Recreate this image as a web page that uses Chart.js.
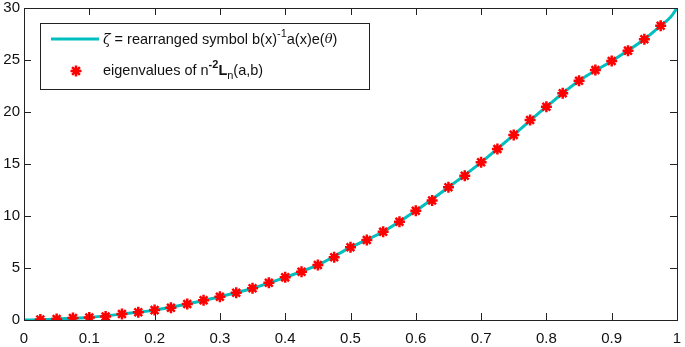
<!DOCTYPE html>
<html>
<head>
<meta charset="utf-8">
<script src="https://cdn.jsdelivr.net/npm/chart.js@4.4.1/dist/chart.umd.min.js"></script>
<style>
  html, body { margin: 0; padding: 0; background: #fff; }
  #wrap { width: 685px; height: 347px; }
</style>
</head>
<body>
<div id="wrap"><canvas id="eigChart" width="685" height="347"></canvas></div>
<script>
// eigenvalue markers
const eigX = [0.025, 0.05, 0.075, 0.1, 0.125, 0.15, 0.175, 0.2, 0.225, 0.25,
  0.275, 0.3, 0.325, 0.35, 0.375, 0.4, 0.425, 0.45, 0.475, 0.5,
  0.525, 0.55, 0.575, 0.6, 0.625, 0.65, 0.675, 0.7, 0.725, 0.75,
  0.775, 0.8, 0.825, 0.85, 0.875, 0.9, 0.925, 0.95, 0.975]
const eigY = [0.05, 0.1, 0.2, 0.25, 0.33, 0.57, 0.75, 0.95, 1.18, 1.54,
  1.89, 2.24, 2.63, 3.05, 3.59, 4.1, 4.64, 5.29, 6.03, 6.99,
  7.69, 8.49, 9.45, 10.5, 11.5, 12.76, 13.88, 15.16, 16.44, 17.8,
  19.23, 20.51, 21.8, 23.0, 24.04, 24.9, 25.9, 26.99, 28.3]

// symbol curve
const curveX = [0, 0.025, 0.05, 0.1, 0.15, 0.2, 0.25, 0.3, 0.35, 0.4, 0.45, 0.5,
  0.55, 0.6, 0.65, 0.7, 0.75, 0.8, 0.85, 0.9, 0.95, 0.975, 0.99, 1]
const curveY = [0, 0.03, 0.1, 0.25, 0.57, 0.95, 1.54, 2.24, 3.05, 4.1, 5.29, 6.99,
  8.49, 10.5, 12.76, 15.16, 17.8, 20.51, 23.0, 24.9, 26.99, 28.3, 29.1, 30]

const xTicks = [0, 0.1, 0.2, 0.3, 0.4, 0.5, 0.6, 0.7, 0.8, 0.9, 1]
const xTickLabels = ['0', '0.1', '0.2', '0.3', '0.4', '0.5', '0.6', '0.7', '0.8', '0.9', '1']
const yTicks = [0, 5, 10, 15, 20, 25, 30]
const yTickLabels = ['0', '5', '10', '15', '20', '25', '30']

const FONT = "'Liberation Sans', Arial, Helvetica, sans-serif"
const AXIS = '#222'
const CYAN = '#00bfbf'
const RED = '#ff0000'

// legend rows as rich-text pieces
const legendRow1 = [
  { t: 'ζ', font: 'italic 14px "DejaVu Serif", serif', dy: 0 },
  { t: ' = rearranged symbol b(x)', font: '14.5px ' + FONT, dy: 0 },
  { t: '-1', font: '11px ' + FONT, dy: -6 },
  { t: 'a(x)e(', font: '14.5px ' + FONT, dy: 0 },
  { t: 'θ', font: 'italic 13px "DejaVu Serif", serif', dy: 0 },
  { t: ')', font: '14.5px ' + FONT, dy: 0 }
]
const legendRow2 = [
  { t: 'eigenvalues of n', font: '14.5px ' + FONT, dy: 0 },
  { t: '-2', font: 'bold 11px ' + FONT, dy: -6 },
  { t: 'L', font: 'bold 14.5px ' + FONT, dy: 0 },
  { t: 'n', font: '11px ' + FONT, dy: 5 },
  { t: '(a,b)', font: '14.5px ' + FONT, dy: 0 }
]

function drawRich(ctx, pieces, x, y) {
  ctx.textBaseline = 'middle'
  ctx.textAlign = 'left'
  ctx.fillStyle = '#111'
  pieces.forEach(p => {
    ctx.font = p.font
    ctx.fillText(p.t, x, y + p.dy)
    x += ctx.measureText(p.t).width
  })
}

const boxPlugin = {
  id: 'boxPlugin',
  afterDraw(chart) {
    const ctx = chart.ctx
    const a = chart.chartArea
    const xs = chart.scales.x
    const ys = chart.scales.y
    const tl = 7
    ctx.save()
    ctx.strokeStyle = AXIS
    ctx.lineWidth = 1
    ctx.beginPath()
    xTicks.forEach(v => {
      const px = Math.round(xs.getPixelForValue(v)) + 0.5
      ctx.moveTo(px, a.bottom); ctx.lineTo(px, a.bottom - tl)
      ctx.moveTo(px, a.top); ctx.lineTo(px, a.top + tl)
    })
    yTicks.forEach(v => {
      const py = Math.round(ys.getPixelForValue(v)) + 0.5
      ctx.moveTo(a.left, py); ctx.lineTo(a.left + tl, py)
      ctx.moveTo(a.right, py); ctx.lineTo(a.right - tl, py)
    })
    ctx.stroke()
    ctx.strokeRect(Math.round(a.left) + 0.5, Math.round(a.top) + 0.5,
      Math.round(a.right - a.left), Math.round(a.bottom - a.top))

    // legend box
    ctx.fillStyle = '#fff'
    ctx.fillRect(40.5, 23.5, 329, 66)
    ctx.strokeStyle = '#222'
    ctx.strokeRect(40.5, 23.5, 329, 66)
    ctx.strokeStyle = CYAN
    ctx.lineWidth = 3
    ctx.beginPath()
    ctx.moveTo(51, 39); ctx.lineTo(99, 39)
    ctx.stroke()
    ctx.strokeStyle = RED
    ctx.lineWidth = 2.5
    ctx.beginPath()
    for (let k = 0; k < 4; k++) {
      const ang = k * Math.PI / 4
      ctx.moveTo(76 - 5.5 * Math.cos(ang), 71 - 5.5 * Math.sin(ang))
      ctx.lineTo(76 + 5.5 * Math.cos(ang), 71 + 5.5 * Math.sin(ang))
    }
    ctx.stroke()
    drawRich(ctx, legendRow1, 103, 40)
    drawRich(ctx, legendRow2, 103, 71)
    ctx.restore()
  }
}

const ctx = document.getElementById('eigChart').getContext('2d')

new Chart(ctx, {
  type: 'line',
  data: {
    datasets: [
      {
        label: 'symbol',
        data: curveX.map((x, i) => ({ x: x, y: curveY[i] })),
        borderColor: CYAN,
        borderWidth: 3,
        pointRadius: 0,
        cubicInterpolationMode: 'monotone',
        order: 2
      },
      {
        label: 'eigenvalues',
        data: eigX.map((x, i) => ({ x: x, y: eigY[i] })),
        showLine: false,
        pointStyle: 'star',
        pointRadius: 5.5,
        borderColor: RED,
        backgroundColor: RED,
        pointBorderWidth: 2.5,
        order: 1
      }
    ]
  },
  options: {
    responsive: false,
    animation: false,
    layout: { padding: { top: 8, right: 4, left: 0, bottom: 0 } },
    plugins: { legend: { display: false }, tooltip: { enabled: false } },
    scales: {
      x: {
        type: 'linear',
        min: 0,
        max: 1,
        grid: { display: false, drawTicks: false },
        border: { display: false },
        afterBuildTicks: s => { s.ticks = xTicks.map(v => ({ value: v })) },
        afterFit: s => { s.height = 27; s.paddingLeft = 0; s.paddingRight = 0 },
        ticks: {
          padding: 10,
          maxRotation: 0,
          autoSkip: false,
          color: '#111',
          font: { family: FONT, size: 15 },
          callback: (v, i) => xTickLabels[i]
        }
      },
      y: {
        type: 'linear',
        min: 0,
        max: 30,
        grid: { display: false, drawTicks: false },
        border: { display: false },
        afterBuildTicks: s => { s.ticks = yTicks.map(v => ({ value: v })) },
        afterFit: s => { s.width = 24; s.paddingTop = 0; s.paddingBottom = 0 },
        ticks: {
          padding: 4,
          autoSkip: false,
          color: '#111',
          font: { family: FONT, size: 15 },
          callback: (v, i) => yTickLabels[i]
        }
      }
    }
  },
  plugins: [boxPlugin]
})
</script>
</body>
</html>
